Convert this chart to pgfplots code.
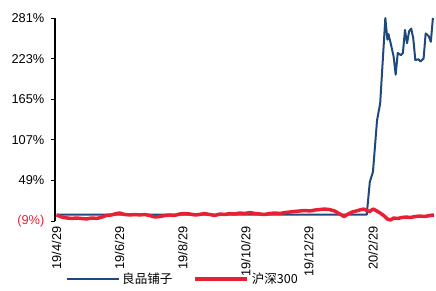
\documentclass[border=0pt]{standalone}
\usepackage{fontspec}
\setmainfont{Liberation Sans}
\newfontfamily\cjk{Noto Sans CJK SC}
\usepackage{pgfplots}
\pgfplotsset{compat=1.18}
\definecolor{lpblue}{RGB}{31,73,125}
\definecolor{hsred}{RGB}{232,32,52}
\begin{document}
\begin{tikzpicture}
\begin{axis}[
  scale only axis,
  width=285.75pt, height=152.25pt,
  xmin=-1.5, xmax=367,
  ymin=-9, ymax=281,
  axis x line*=bottom, axis y line*=left,
  x axis line style={draw=none},
  y axis line style={-, black, line width=0.9pt},
  xtick={0,61,122,183,244,306},
  xticklabels={19/4/29,19/6/29,19/8/29,19/10/29,19/12/29,20/2/29},
  xtick style={draw=none},
  xticklabel style={rotate=90, anchor=east, font=\fontsize{9.6pt}{11pt}\selectfont, inner sep=1pt},
  ytick={-9,49,107,165,223,281},
  yticklabels={{\textcolor{hsred}{(9\%)}},49\%,107\%,165\%,223\%,281\%},
  yticklabel style={font=\fontsize{9.6pt}{11pt}\selectfont, xshift=-1.5pt},
  ytick style={black, line width=0.6pt},
  tick align=outside,
  major tick length=3pt,
  /pgf/number format/assume math mode=true,
  clip=false,
  legend style={at={(0.336,-0.286)}, anchor=center, draw=none, fill=none,
    legend columns=2, font=\fontsize{9.4pt}{11pt}\selectfont,
    /tikz/every even column/.append style={column sep=14pt}},
  legend image code/.code={\draw[#1] (0pt,0pt) -- (39pt,0pt);},
]
\addplot[lpblue, line width=1.5pt, line join=round] coordinates {
(0,0) (100,0) (200,0) (300,0) (303,47) (306,61) (310,135) (313,159) (318,281)
(320,250) (321,258) (323,246) (326,226) (328,200) (330,231) (333,228) (335,231)
(337,264) (339,245) (341,262) (343,266) (345,252) (347,221) (350,222) (352,219)
(355,223) (357,259) (360,255) (362,247) (364,281)
};
\addlegendentry{{\cjk 良品铺子}}
\addplot[hsred, line width=2.6pt, line join=round] coordinates {
(0,-0.4) (5,-3.3) (10,-4.7) (15,-5.4) (19,-4.7) (24,-5.4) (29,-6.1) (34,-4.7)
(39,-5.4) (44,-3.3) (48,-1.1) (53,-0.4) (58,1.7) (61,2.4) (66,0.3) (71,-0.4)
(76,0.3) (80,-0.4) (85,0.3) (90,-1.1) (95,-3.3) (100,-2.6) (105,-1.1) (109,-0.4)
(114,-1.1) (119,1.0) (124,1.7) (129,1.0) (134,-0.4) (138,0.3) (143,1.7) (148,0.3)
(153,-1.1) (158,1.0) (163,0.3) (167,1.7) (172,1.0) (177,2.4) (182,1.7) (187,3.1)
(192,1.7) (197,1.0) (201,0.3) (206,1.7) (211,2.4) (216,1.7) (221,3.1) (226,3.9)
(230,4.6) (235,5.3) (240,6.0) (245,5.3) (250,6.7) (255,7.4) (259,8.1) (264,7.4)
(269,5.3) (274,1.0) (278,-2.6) (282,1.0) (286,3.9) (290,5.3) (293,6.7) (297,8.1)
(300,6.0) (303,4.6) (306,8.1) (309,6.0) (313,2.4) (317,-1.9) (320,-6.1) (323,-7.6)
(326,-4.7) (330,-5.4) (334,-4.0) (338,-3.3) (342,-4.0) (347,-2.6) (351,-1.9)
(356,-2.6) (361,-1.1) (365,-0.4)
};
\addlegendentry{{\cjk 沪深300}}
\coordinate (sw) at (rel axis cs:0,0);
\coordinate (ne) at (rel axis cs:1,1);
\end{axis}
\path ([xshift=-41.25pt,yshift=-48pt]sw) rectangle ([xshift=0pt,yshift=13.5pt]ne);
\end{tikzpicture}
\end{document}
